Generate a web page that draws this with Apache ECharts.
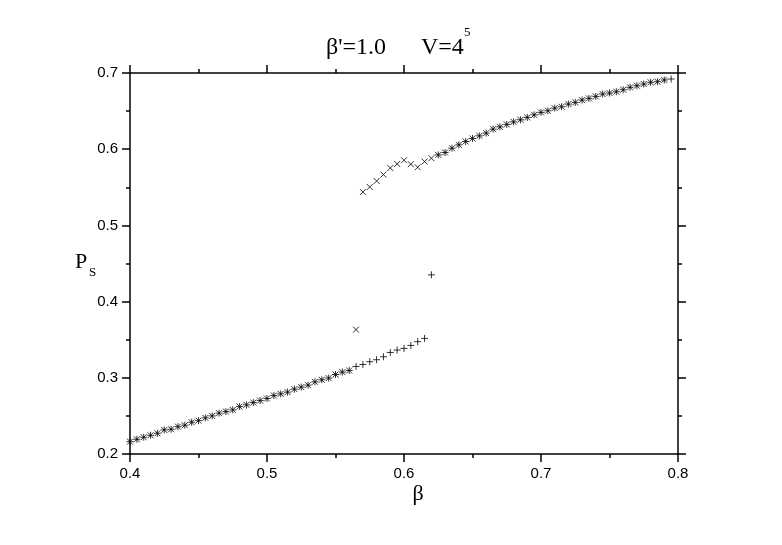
<!DOCTYPE html>
<html>
<head>
<meta charset="utf-8">
<script src="https://cdn.jsdelivr.net/npm/echarts@6/dist/echarts.min.js"></script>
<style>
  html, body { margin: 0; padding: 0; background: #fff; }
  #chart { width: 782px; height: 545px; }
</style>
</head>
<body>
<div id="chart"></div>
<script>
// lower branch, both series sit on top of each other here
var lowBeta = [0.400, 0.405, 0.410, 0.415, 0.420, 0.425, 0.430, 0.435, 0.440, 0.445,
  0.450, 0.455, 0.460, 0.465, 0.470, 0.475, 0.480, 0.485, 0.490, 0.495,
  0.500, 0.505, 0.510, 0.515, 0.520, 0.525, 0.530, 0.535, 0.540, 0.545,
  0.550, 0.555, 0.560];
var lowP = [0.2162, 0.2193, 0.2220, 0.2246, 0.2272, 0.2316, 0.2325, 0.2359, 0.2378, 0.2417,
  0.2438, 0.2474, 0.2500, 0.2536, 0.2557, 0.2579, 0.2622, 0.2645, 0.2675, 0.2701,
  0.2728, 0.2767, 0.2789, 0.2812, 0.2851, 0.2878, 0.2904, 0.2947, 0.2974, 0.2996,
  0.3043, 0.3075, 0.3096];

// '+' keeps going on the lower branch
var plusTailBeta = [0.565, 0.570, 0.575, 0.580, 0.585, 0.590, 0.595, 0.600, 0.605, 0.610, 0.615];
var plusTailP = [0.3149, 0.3175, 0.3211, 0.3237, 0.3276, 0.3333, 0.3364, 0.3386, 0.3425, 0.3474, 0.3517];

// single points in the gap
var crossJumpBeta = [0.565];
var crossJumpP = [0.3632];
var plusJumpBeta = [0.620];
var plusJumpP = [0.4351];

// upper branch ('x' from 0.57, '+' joins at 0.625)
var highBeta = [0.570, 0.575, 0.580, 0.585, 0.590, 0.595, 0.600, 0.605, 0.610, 0.615,
  0.620, 0.625, 0.630, 0.635, 0.640, 0.645, 0.650, 0.655, 0.660, 0.665,
  0.670, 0.675, 0.680, 0.685, 0.690, 0.695, 0.700, 0.705, 0.710, 0.715,
  0.720, 0.725, 0.730, 0.735, 0.740, 0.745, 0.750, 0.755, 0.760, 0.765,
  0.770, 0.775, 0.780, 0.785, 0.790];
var highP = [0.5438, 0.5504, 0.5583, 0.5667, 0.5754, 0.5807, 0.5855, 0.5803, 0.5763, 0.5838,
  0.5882, 0.5925, 0.5957, 0.6013, 0.6057, 0.6101, 0.6141, 0.6175, 0.6211, 0.6263,
  0.6293, 0.6325, 0.6359, 0.6386, 0.6417, 0.6451, 0.6483, 0.6504, 0.6539, 0.6557,
  0.6592, 0.6614, 0.6645, 0.6667, 0.6693, 0.6724, 0.6737, 0.6754, 0.6780, 0.6812,
  0.6833, 0.6855, 0.6878, 0.6886, 0.6908];
var plusEndBeta = [0.795];
var plusEndP = [0.6921];
var plusStart = 11; // index in highBeta where '+' starts

var xTicks = [0.4, 0.5, 0.6, 0.7, 0.8];
var yTicks = [0.2, 0.3, 0.4, 0.5, 0.6, 0.7];

function pairs(xs, ys) {
  return xs.map(function (x, i) { return [x, ys[i]]; });
}

var crossData = pairs(lowBeta, lowP)
  .concat(pairs(crossJumpBeta, crossJumpP))
  .concat(pairs(highBeta, highP));
var plusData = pairs(lowBeta, lowP)
  .concat(pairs(plusTailBeta, plusTailP))
  .concat(pairs(plusJumpBeta, plusJumpP))
  .concat(pairs(highBeta.slice(plusStart), highP.slice(plusStart)))
  .concat(pairs(plusEndBeta, plusEndP));

var sans = 'Liberation Sans';
var serif = 'Liberation Serif';

function axis(pos, min, max, show) {
  return {
    type: 'value',
    position: pos,
    min: min,
    max: max,
    interval: 0.1,
    splitLine: { show: false },
    axisLine: { show: true, onZero: false, lineStyle: { color: '#000', width: 1.5 } },
    axisTick: { show: true, inside: false, length: 8, lineStyle: { color: '#000', width: 1.5 } },
    minorTick: { show: true, splitNumber: 2, length: 4, lineStyle: { color: '#000', width: 1.5 } },
    axisLabel: {
      show: show,
      margin: 12,
      color: '#000',
      fontFamily: sans,
      fontSize: 15,
      formatter: function (v) { return v.toFixed(1); }
    }
  };
}

var chart = echarts.init(document.getElementById('chart'));
chart.setOption({
  animation: false,
  backgroundColor: '#fff',
  grid: { left: 130, right: 104, top: 73, bottom: 91 },
  xAxis: [axis('bottom', xTicks[0], xTicks[xTicks.length - 1], true),
          axis('top', xTicks[0], xTicks[xTicks.length - 1], false)],
  yAxis: [axis('left', yTicks[0], yTicks[yTicks.length - 1], true),
          axis('right', yTicks[0], yTicks[yTicks.length - 1], false)],
  series: [
    {
      type: 'scatter',
      data: crossData,
      symbol: 'path://M0,0L10,10M10,0L0,10',
      symbolSize: 6,
      itemStyle: { color: 'rgba(0,0,0,0)', borderColor: '#000', borderWidth: 1 },
      emphasis: { disabled: true }
    },
    {
      type: 'scatter',
      data: plusData,
      symbol: 'path://M5,0L5,10M0,5L10,5',
      symbolSize: 7,
      itemStyle: { color: 'rgba(0,0,0,0)', borderColor: '#000', borderWidth: 1 },
      emphasis: { disabled: true }
    }
  ],
  graphic: [
    { type: 'text', x: 326, y: 36, style: { text: "β'=1.0", font: '24px "' + serif + '"', fill: '#000', verticalAlign: 'top' } },
    { type: 'text', x: 421, y: 36, style: { text: 'V=4', font: '24px "' + serif + '"', fill: '#000', verticalAlign: 'top' } },
    { type: 'text', x: 464, y: 26, style: { text: '5', font: '13px "' + serif + '"', fill: '#000', verticalAlign: 'top' } },
    { type: 'text', x: 75, y: 251, style: { text: 'P', font: '22px "' + serif + '"', fill: '#000', verticalAlign: 'top' } },
    { type: 'text', x: 89, y: 266, style: { text: 'S', font: '13px "' + serif + '"', fill: '#000', verticalAlign: 'top' } },
    { type: 'text', x: 418, y: 483, style: { text: 'β', font: '22px "' + serif + '"', fill: '#000', textAlign: 'center', verticalAlign: 'top' } }
  ]
});
</script>
</body>
</html>
